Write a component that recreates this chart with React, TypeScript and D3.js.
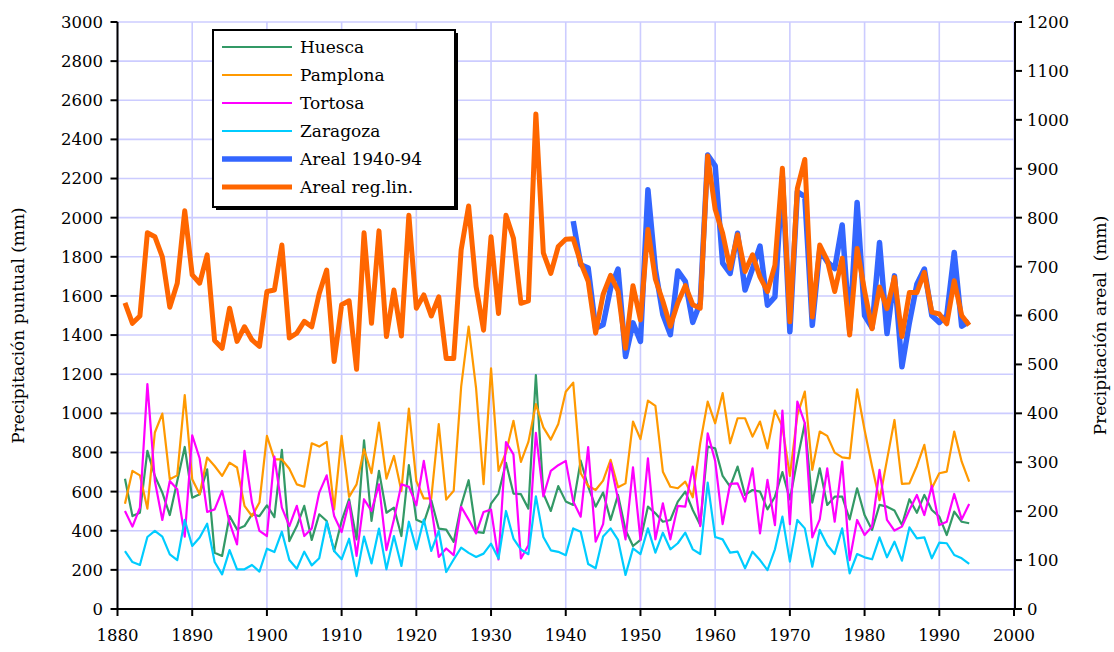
import React from "react";
import * as d3 from "d3";

const startYear = 1881;
const endYear = 1994;
const arealStart = 1941;

const huesca = [
  666, 475, 492, 808, 680, 595, 480, 654, 828, 569, 586, 714, 288, 271, 475, 407, 424, 484, 475, 530,
  470, 813, 347, 424, 527, 353, 484, 450, 296, 450, 561, 356, 862, 450, 706, 492, 518, 373, 735, 456,
  440, 556, 411, 406, 343, 530, 658, 394, 389, 539, 590, 747, 590, 587, 513, 1195, 590, 501, 628, 550,
  532, 758, 625, 523, 595, 455, 583, 404, 322, 353, 523, 489, 446, 455, 549, 600, 506, 429, 830, 821,
  680, 625, 728, 583, 608, 600, 509, 574, 700, 560, 762, 949, 544, 719, 532, 574, 574, 458, 617, 480,
  404, 532, 523, 503, 429, 561, 492, 583, 506, 472, 378, 498, 446, 438,
];
const pamplona = [
  538, 706, 683, 513, 902, 999, 663, 683, 1093, 663, 586, 774, 731, 680, 748, 723, 527, 475, 544, 885,
  765, 765, 717, 637, 625, 847, 830, 854, 509, 885, 573, 637, 816, 694, 953, 666, 782, 603, 1024, 654,
  565, 565, 945, 559, 604, 1136, 1443, 1127, 638, 1230, 706, 800, 962, 752, 854, 1047, 928, 866, 945, 1110,
  1157, 694, 629, 608, 656, 762, 622, 642, 958, 868, 1065, 1038, 702, 625, 617, 651, 571, 847, 1060, 949,
  1103, 847, 975, 975, 881, 958, 821, 1014, 932, 680, 990, 1111, 711, 907, 885, 799, 775, 770, 1123, 915,
  728, 556, 762, 966, 639, 642, 731, 839, 617, 694, 702, 907, 753, 651,
];
const tortosa = [
  501, 421, 518, 1149, 654, 455, 654, 612, 370, 888, 769, 496, 509, 603, 441, 330, 808, 544, 399, 373,
  779, 518, 424, 527, 373, 411, 595, 683, 475, 393, 547, 271, 561, 501, 637, 301, 458, 637, 625, 530,
  757, 522, 266, 309, 275, 522, 457, 386, 496, 508, 253, 853, 790, 258, 326, 900, 576, 706, 735, 757,
  549, 472, 827, 344, 434, 745, 561, 356, 724, 353, 770, 356, 540, 356, 527, 523, 728, 424, 898, 757,
  434, 639, 642, 549, 719, 386, 660, 429, 1014, 434, 1060, 950, 366, 458, 719, 446, 753, 250, 455, 378,
  421, 711, 455, 401, 421, 506, 583, 480, 629, 429, 446, 588, 458, 537,
];
const zaragoza = [
  296, 240, 225, 368, 399, 370, 279, 250, 455, 322, 365, 436, 240, 177, 301, 203, 203, 225, 191, 308,
  291, 395, 250, 206, 293, 223, 259, 445, 296, 254, 359, 168, 370, 233, 411, 203, 373, 220, 446, 305,
  457, 297, 399, 189, 253, 314, 287, 266, 283, 334, 258, 501, 360, 304, 280, 576, 368, 300, 292, 275,
  412, 395, 230, 208, 370, 412, 353, 174, 310, 281, 412, 288, 390, 305, 336, 390, 305, 281, 646, 368,
  356, 288, 293, 208, 293, 250, 199, 305, 472, 242, 455, 412, 216, 404, 327, 281, 412, 182, 281, 264,
  254, 366, 264, 344, 247, 417, 361, 366, 259, 339, 336, 276, 259, 230,
];
// right axis (areal, mm)
const areal4094 = [
  793, 704, 697, 574, 581, 656, 695, 516, 585, 547, 857, 694, 602, 561, 691, 670, 586, 626, 928, 906,
  707, 686, 768, 652, 696, 742, 621, 638, 884, 567, 853, 843, 580, 734, 710, 696, 785, 570, 831, 600,
  575, 749, 563, 681, 495, 586, 664, 695, 600, 586, 600, 729, 578, 588,
];
const arealRegLin = [
  626, 584, 599, 769, 761, 720, 617, 666, 814, 683, 666, 724, 549, 533, 615, 547, 577, 550, 537, 649,
  652, 744, 554, 564, 588, 577, 645, 693, 506, 622, 630, 490, 769, 584, 773, 557, 652, 558, 805, 615,
  642, 599, 638, 512, 512, 734, 824, 659, 570, 761, 604, 805, 758, 625, 630, 1012, 728, 686, 741, 756,
  757, 708, 670, 564, 643, 682, 650, 533, 661, 591, 776, 674, 629, 578, 626, 661, 622, 615, 926, 817,
  768, 696, 765, 690, 724, 679, 649, 703, 901, 587, 860, 919, 597, 744, 713, 649, 717, 560, 737, 650,
  573, 658, 614, 678, 557, 647, 647, 688, 607, 603, 583, 671, 600, 580,
];

const xTicks = [1880, 1890, 1900, 1910, 1920, 1930, 1940, 1950, 1960, 1970, 1980, 1990, 2000];
const leftTicks = [0, 200, 400, 600, 800, 1000, 1200, 1400, 1600, 1800, 2000, 2200, 2400, 2600, 2800, 3000];
const rightTicks = [0, 100, 200, 300, 400, 500, 600, 700, 800, 900, 1000, 1100, 1200];

const seriesNames = ["Huesca", "Pamplona", "Tortosa", "Zaragoza", "Areal 1940-94", "Areal reg.lin."];

const W = 1114;
const H = 652;
const FONT = "DejaVu Serif";

export default function App() {
  const x = d3.scaleLinear().domain([1880, 2000]).range([117.5, 1014]);
  const yL = d3.scaleLinear().domain([0, 3000]).range([609, 22]);
  const yR = d3.scaleLinear().domain([0, 1200]).range([609, 22]);

  const mk = (vals: number[], y0: number, sc: d3.ScaleLinear<number, number>) =>
    d3
      .line<number>()
      .x((_, i) => x(y0 + i))
      .y((v) => sc(v))(vals) || "";

  const series = [
    { name: seriesNames[0], d: mk(huesca, startYear, yL), color: "#339966", w: 2.2 },
    { name: seriesNames[1], d: mk(pamplona, startYear, yL), color: "#ff9900", w: 2.2 },
    { name: seriesNames[2], d: mk(tortosa, startYear, yL), color: "#ff00ff", w: 2.2 },
    { name: seriesNames[3], d: mk(zaragoza, startYear, yL), color: "#00ccff", w: 2.2 },
    { name: seriesNames[4], d: mk(areal4094, arealStart, yR), color: "#3366ff", w: 5.5 },
    { name: seriesNames[5], d: mk(arealRegLin, startYear, yR), color: "#ff6600", w: 5 },
  ];

  const x0 = x(1880);
  const x1 = x(2000);
  const yb = yL(0);
  const yt = yL(3000);

  const legX = 213, legY = 30, legW = 242, legH = 177;

  return (
    <svg width={W} height={H} style={{ position: "absolute", left: 0, top: 0, background: "#fff" }} fontFamily={FONT}>
      <rect x={0} y={0} width={W} height={H} fill="#fff" />
      {/* grid */}
      {leftTicks.map((t) => (
        <line key={"hg" + t} x1={x0} x2={x1} y1={yL(t)} y2={yL(t)} stroke="#ccccff" strokeWidth={1.6} />
      ))}
      {xTicks.map((t) => (
        <line key={"vg" + t} x1={x(t)} x2={x(t)} y1={yt} y2={yb} stroke="#ccccff" strokeWidth={1.6} />
      ))}
      {/* series */}
      {series.map((s) => (
        <path key={s.name} d={s.d} fill="none" stroke={s.color} strokeWidth={s.w} strokeLinejoin="round" />
      ))}
      {/* axes */}
      <line x1={x0} x2={x0} y1={yt} y2={yb + 1} stroke="#000" strokeWidth={2} />
      <line x1={x1 + 1} x2={x1 + 1} y1={yt} y2={yb + 1} stroke="#000" strokeWidth={2} />
      <line x1={x0 - 1} x2={x1 + 2} y1={yb} y2={yb} stroke="#000" strokeWidth={2} />
      {leftTicks.map((t) => (
        <g key={"lt" + t}>
          <line x1={x0 - 7} x2={x0} y1={yL(t)} y2={yL(t)} stroke="#000" strokeWidth={2} />
          <text x={103} y={yL(t)} dy="0.36em" textAnchor="end" fontSize={16.5}>{t}</text>
        </g>
      ))}
      {rightTicks.map((t) => (
        <g key={"rt" + t}>
          <line x1={x1 + 1} x2={x1 + 8} y1={yR(t)} y2={yR(t)} stroke="#000" strokeWidth={2} />
          <text x={1027} y={yR(t)} dy="0.36em" textAnchor="start" fontSize={16.5}>{t}</text>
        </g>
      ))}
      {xTicks.map((t) => (
        <g key={"xt" + t}>
          <line x1={x(t)} x2={x(t)} y1={yb} y2={yb + 7} stroke="#000" strokeWidth={2} />
          <text x={x(t)} y={641} textAnchor="middle" fontSize={16.5}>{t}</text>
        </g>
      ))}
      <text transform={`translate(24,${(yt + yb) / 2 + 10}) rotate(-90)`} textAnchor="middle" fontSize={17}>
        Precipitación puntual (mm)
      </text>
      <text transform={`translate(1106,${(yt + yb) / 2 + 10}) rotate(-90)`} textAnchor="middle" fontSize={17} style={{ whiteSpace: "pre" }}>
        {"Precipitación areal  (mm)"}
      </text>
      {/* legend */}
      <rect x={legX + 3} y={legY + 3} width={legW} height={legH} fill="#000" />
      <rect x={legX} y={legY} width={legW} height={legH} fill="#fff" stroke="#000" strokeWidth={2} />
      {series.map((s, i) => {
        const ly = 47 + i * 28;
        return (
          <g key={"lg" + s.name}>
            <line x1={222} x2={292} y1={ly} y2={ly} stroke={s.color} strokeWidth={s.w} />
            <text x={300} y={ly} dy="0.36em" fontSize={17}>{s.name}</text>
          </g>
        );
      })}
    </svg>
  );
}
